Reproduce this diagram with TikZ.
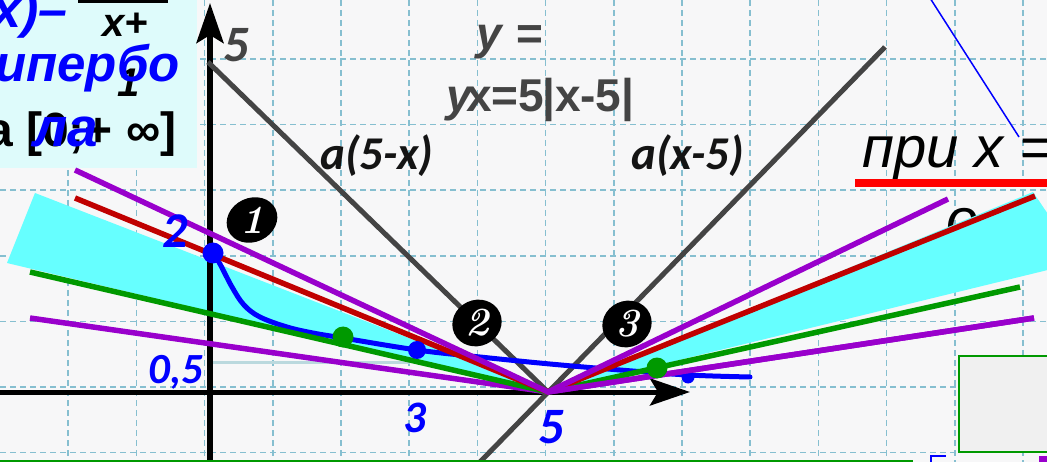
\documentclass[tikz,border=0pt]{standalone}
\usepackage{fontspec}
\setmainfont{Liberation Sans}
\newfontfamily\calib{Carlito}
\newfontfamily\lmserif{Latin Modern Roman}
\usetikzlibrary{arrows.meta,shapes.geometric}
\definecolor{bgc}{HTML}{F7F7F8}
\definecolor{gridc}{HTML}{86BFD0}
\definecolor{boxc}{HTML}{DEFBFB}
\definecolor{cyanf}{HTML}{66FFFF}
\definecolor{purp}{HTML}{9900CC}
\definecolor{redl}{HTML}{C00000}
\definecolor{greenl}{HTML}{009900}
\definecolor{bluel}{HTML}{0000FF}
\definecolor{grayl}{HTML}{444444}
\definecolor{palel}{HTML}{BBD9DE}
\definecolor{boxg}{HTML}{F0F0F0}
\tikzset{
  gridline/.style={gridc, line width=1.6pt, dash pattern=on 6pt off 4pt},
  thick line/.style={line width=5.5pt},
  grayline/.style={grayl, line width=5pt},
  numlabel/.style={text=bluel, font=\calib\bfseries\itshape, inner sep=0pt},
  blob/.style={ellipse, fill=black, minimum width=52pt, minimum height=44pt, inner sep=0pt},
  blobtext/.style={text=white, font=\lmserif\bfseries\itshape\fontsize{40}{40}\selectfont, inner sep=0pt},
  dot/.style={circle, inner sep=0pt},
  linelabel/.style={anchor=base west, inner sep=0pt, text=black!92, font=\calib\bfseries\itshape\fontsize{47}{47}\selectfont},
  eqlabel/.style={anchor=base west, inner sep=0pt, text=grayl, font=\bfseries\fontsize{46}{46}\selectfont},
}
\begin{document}
\begin{tikzpicture}[x=1pt,y=-1pt]
\useasboundingbox (0,0) rectangle (1047,462);
\clip (0,0) rectangle (1047,462);
\fill[bgc] (0,0) rectangle (1047,462);
% grid
\foreach \i in {1,...,15} \draw[gridline] ({68.2*\i},0) -- ({68.2*\i},462);
\foreach \j in {0,...,6} \draw[gridline] (0,{59+65.6*\j}) -- (1047,{59+65.6*\j});
% top-left box
\fill[boxc] (0,0) rectangle (197,168);
\node[anchor=base west, inner sep=0pt, text=bluel, font=\bfseries\itshape\fontsize{52}{52}\selectfont] (t1) at (-8,28) {x)–};
\fill[black] (78,0) rectangle (168,3);
\node[anchor=base west, inner sep=0pt, font=\bfseries\itshape\fontsize{40}{40}\selectfont] (t2) at (102,37) {x+};
\node[anchor=base west, inner sep=0pt, font=\bfseries\itshape\fontsize{40}{40}\selectfont] (t3) at (117,97) {1};
\node[anchor=base west, inner sep=0pt, text=bluel, font=\bfseries\itshape\fontsize{51}{51}\selectfont] (t4) at (-5,82) {ипербо};
\node[anchor=base west, inner sep=0pt, font=\bfseries\fontsize{48}{48}\selectfont] (t5) at (-14,147) {а [0;+ ∞]};
\node[anchor=base west, inner sep=0pt, text=bluel, font=\bfseries\itshape\fontsize{55}{55}\selectfont] (t6) at (33,147) {ла};
% partial letter under the wedge
\node[anchor=base west, inner sep=0pt, font=\itshape\fontsize{58}{58}\selectfont] (t7) at (946,240) {о};
% coordinates
\coordinate (V) at (548,392);
% cyan wedges
\fill[cyanf] (V) -- (35,193) -- (7,263) -- cycle;
\fill[cyanf] (V) -- (1033,192) -- (1060,232) -- (1060,267) -- cycle;
% pale line at 0.5
\coordinate (p1) at (212,362);
\coordinate (p2) at (410,362);
\draw[palel, line width=3pt] (p1) -- (p2);
% axes
\coordinate (xs) at (0,392);
\coordinate (xe) at (690,392);
\coordinate (ys) at (210,470);
\coordinate (ye) at (210,3);
\draw[line width=5pt, -{Stealth[length=40pt,width=27pt,inset=8pt]}] (xs) -- (xe);
\draw[line width=6pt, -{Stealth[length=40pt,width=27pt,inset=8pt]}] (ys) -- (ye);
% gray V lines
\coordinate (g1) at (208,62);
\coordinate (g2) at (885,47);
\coordinate (g3) at (480,462);
\draw[grayline] (g1) -- (V);
\draw[grayline] (g3) -- (g2);
% blue curve
\draw[bluel, line width=5pt, line cap=round] plot[smooth, tension=0.6] coordinates {(213,253) (220,264) (232,287) (244,305) (260,317) (287,327) (313,333) (343,338) (417,350) (480,357) (550,364) (620,370) (688,375) (750,377)};
% lines through vertex
\coordinate (pl1) at (75,170);
\coordinate (rl1) at (75,198);
\coordinate (gl1) at (30,272);
\coordinate (pl2) at (30,318);
\coordinate (pr1) at (948,199);
\coordinate (rr1) at (1035,196);
\coordinate (gr1) at (1020,287);
\coordinate (pr2) at (1034,318);
\draw[purp, thick line] (pl2) -- (V) -- (pr2);
\draw[greenl, thick line] (gl1) -- (V) -- (gr1);
\draw[redl, thick line] (rl1) -- (V) -- (rr1);
\draw[purp, thick line] (pl1) -- (V) -- (pr1);
% dots
\node[dot, fill=bluel, minimum size=21pt] (d1) at (213,253) {};
\node[dot, fill=greenl, minimum size=21pt] (d2) at (343,337) {};
\node[dot, fill=bluel, minimum size=18pt] (d3) at (417,350) {};
\node[dot, fill=bluel, minimum size=13pt] (d5) at (688,377) {};
\draw[purp, thick line] (V) -- (pr2);
\node[dot, fill=greenl, minimum size=21pt] (d4) at (657,368) {};
% numbered blobs
\node[blob, rotate=25] (b1) at (252,220) {};
\node[blobtext] at (b1) {1};
\node[blob, rotate=25, minimum width=50pt, minimum height=46pt] (b2) at (477,323) {};
\node[blobtext] at (b2) {2};
\node[blob, rotate=25, minimum width=50pt, minimum height=46pt] (b3) at (627,324) {};
\node[blobtext] at (b3) {3};
% number labels
\node[numlabel, anchor=base west, font=\calib\bfseries\itshape\fontsize{50}{50}\selectfont] (n2) at (162,248) {2};
\node[numlabel, anchor=base west, font=\calib\bfseries\itshape\fontsize{43}{43}\selectfont] (n05) at (148,383) {0,5};
\node[numlabel, anchor=base west, font=\calib\bfseries\itshape\fontsize{45}{45}\selectfont] (n3) at (403,432) {3};
\node[numlabel, anchor=base west, font=\calib\bfseries\itshape\fontsize{51}{51}\selectfont] (n5) at (538,443) {5};
\node[anchor=base west, inner sep=0pt, text=grayl, font=\calib\bfseries\itshape\fontsize{51}{51}\selectfont] (y5) at (223,62) {5};
% line labels
\node[linelabel] (la) at (320,170) {a(5-x)};
\node[linelabel] (lb) at (631,170) {a(x-5)};
\node[eqlabel] (ly1) at (476,50) {\textit{y} =};
\node[eqlabel] (ly2) at (446,112) {\textit{y}};
\node[eqlabel] (ly3) at (466,112) {x=5};
\node[eqlabel] (ly4) at (542,112) {|x-5|};
% top right
\coordinate (bl1) at (930,-2);
\coordinate (bl2) at (1019,137);
\draw[bluel, line width=1.5pt] (bl1) -- (bl2);
\node[anchor=base west, inner sep=0pt, font=\itshape\fontsize{58}{58}\selectfont] (pri) at (862,168) {при x =};
\fill[red] (855,179) rectangle (1047,187);
% bottom right
\draw[greenl, line width=2pt, fill=boxg] (959,356) rectangle (1060,452);
\coordinate (gb1) at (0,461);
\coordinate (gb2) at (913,461);
\draw[greenl, line width=3pt] (gb1) -- (gb2);
\coordinate (k1) at (931,470);
\coordinate (k2) at (931,456);
\coordinate (k3) at (946,456);
\draw[bluel, line width=2pt] (k1) -- (k2) -- (k3);
\fill[purp] (1039,456) rectangle (1047,462);
\end{tikzpicture}
\end{document}
